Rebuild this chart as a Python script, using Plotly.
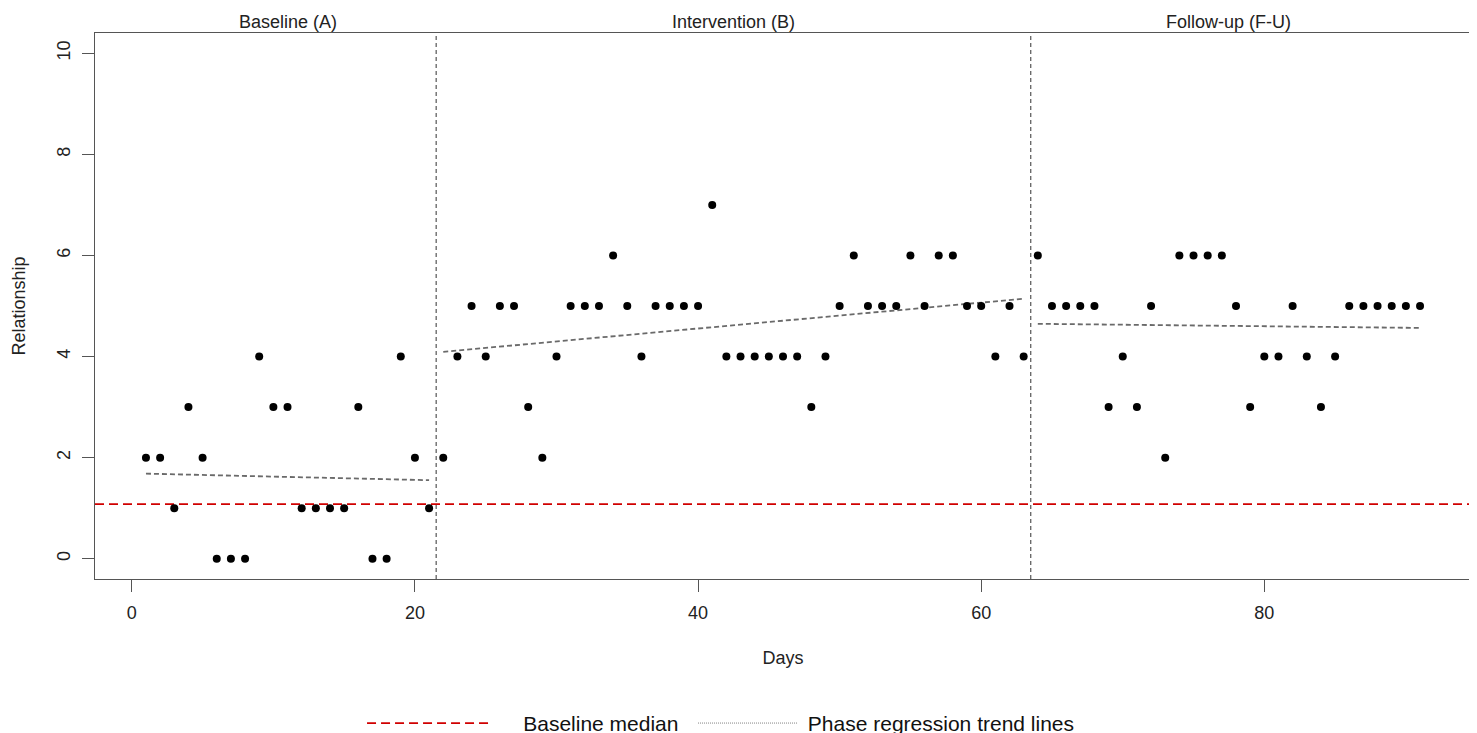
import numpy as np
import plotly.graph_objects as go

# ---- data ----
baseline_days = list(range(1, 22))
baseline_vals = [2, 2, 1, 3, 2, 0, 0, 0, 4, 3, 3, 1, 1, 1, 1, 3, 0, 0, 4, 2, 1]

intervention_days = list(range(22, 64))
intervention_vals = [2, 4, 5, 4, 5, 5, 3, 2, 4, 5, 5, 5, 6, 5, 4, 5, 5, 5, 5, 7,
                     4, 4, 4, 4, 4, 4, 3, 4, 5, 6, 5, 5, 5, 6, 5, 6, 6, 5, 5, 4,
                     5, 4]

followup_days = list(range(64, 92))
followup_vals = [6, 5, 5, 5, 5, 3, 4, 3, 5, 2, 6, 6, 6, 6, 5, 3, 4, 4, 5, 4,
                 3, 4, 5, 5, 5, 5, 5, 5]

phase_names = ["Baseline (A)", "Intervention (B)", "Follow-up (F-U)"]
phase_boundaries = [21.5, 63.5]
baseline_median_level = 1.08
x_range = [-2.6, 94.6]
y_range = [-0.4, 10.4]
x_ticks = [0, 20, 40, 60, 80]
y_ticks = [0, 2, 4, 6, 8, 10]

FONT = "Liberation Sans, Arial, Helvetica, sans-serif"
NB = "\u00a0"

fig = go.Figure()

phases = [(baseline_days, baseline_vals),
          (intervention_days, intervention_vals),
          (followup_days, followup_vals)]

# regression trend lines for each phase
for days, vals in phases:
    slope, intercept = np.polyfit(days, vals, 1)
    xs = [days[0], days[-1]]
    ys = [intercept + slope * x for x in xs]
    fig.add_trace(go.Scatter(x=xs, y=ys, mode="lines",
                             line=dict(color="#6a6a6a", width=1.8, dash="5px,3px"),
                             showlegend=False, hoverinfo="skip"))

# baseline median line
fig.add_trace(go.Scatter(x=x_range, y=[baseline_median_level] * 2, mode="lines",
                         line=dict(color="#d00000", width=1.8, dash="9px,5px"),
                         name=NB * 5 + "Baseline median", showlegend=True,
                         legend="legend"))

# legend entry for trend lines
fig.add_trace(go.Scatter(x=[None], y=[None], mode="lines",
                         line=dict(color="#808080", width=1, dash="1px,1px"),
                         name=NB + "Phase regression trend lines", showlegend=True,
                         legend="legend2"))

# data points
all_days = baseline_days + intervention_days + followup_days
all_vals = baseline_vals + intervention_vals + followup_vals
fig.add_trace(go.Scatter(x=all_days, y=all_vals, mode="markers",
                         marker=dict(color="black", size=8, symbol="circle"),
                         showlegend=False))

# phase change lines
for b in phase_boundaries:
    fig.add_shape(type="line", x0=b, x1=b, xref="x", yref="paper", y0=0, y1=1,
                  line=dict(color="#555555", width=1.2, dash="4px,3px"))

# phase labels
for name, (days, _) in zip(phase_names, phases):
    fig.add_annotation(x=float(np.mean(days)), y=1, xref="x", yref="paper",
                       yanchor="bottom", text=name, showarrow=False, yshift=-1,
                       font=dict(family=FONT, size=18, color="#222222"))

legend_common = dict(orientation="h", xref="container", yref="container",
                     xanchor="left", y=0.024, yanchor="middle",
                     font=dict(family=FONT, size=21, color="#111111"),
                     bgcolor="rgba(0,0,0,0)")

fig.update_layout(
    width=1477, height=733,
    margin=dict(l=87, r=14, t=25, b=162, autoexpand=False),
    plot_bgcolor="white", paper_bgcolor="white",
    font=dict(family=FONT, size=18, color="#222222"),
    legend=dict(x=0.2397, itemwidth=122, **legend_common),
    legend2=dict(x=0.4638, itemwidth=99, **legend_common),
    showlegend=True,
)

fig.update_xaxes(range=x_range, tickvals=x_ticks, ticks="outside", ticklen=12,
                 tickcolor="#555555", showgrid=False, zeroline=False,
                 showline=True, linecolor="#555555", linewidth=1.3, mirror=True,
                 ticklabelstandoff=5, automargin=False,
                 title=dict(text="Days", standoff=29, font=dict(size=18)))
fig.update_yaxes(range=y_range, tickvals=y_ticks, ticks="outside", ticklen=12,
                 tickcolor="#555555", showgrid=False, zeroline=False,
                 showline=True, linecolor="#555555", linewidth=1.3, mirror=True,
                 tickangle=-90, ticklabelstandoff=5, automargin=False,
                 title=dict(text="Relationship", standoff=23, font=dict(size=18)))

fig.write_html("out.html")
